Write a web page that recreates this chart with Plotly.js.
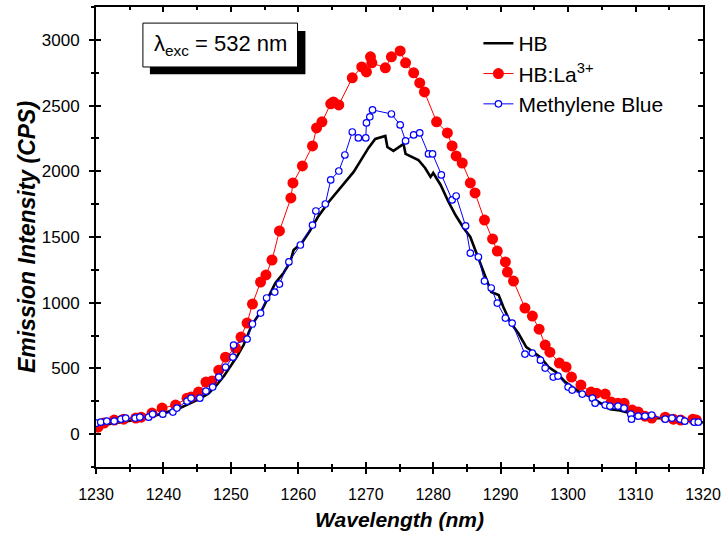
<!DOCTYPE html>
<html>
<head>
<meta charset="utf-8">
<script src="https://cdn.plot.ly/plotly-3.0.1.min.js"></script>
<style>html,body{margin:0;padding:0;background:#fff;}#chart{width:722px;height:542px;}</style>
</head>
<body>
<div id="chart"></div>
<script>
// ---- Data ----
const hbWavelength = [1230.0,1231.9,1233.4,1234.9,1236.4,1237.8,1239.3,1240.8,1242.3,1243.8,1245.2,1246.7,1248.0,1249.0,1250.0,1250.9,1251.9,1253.1,1254.6,1255.6,1256.6,1257.8,1258.8,1259.3,1260.5,1261.7,1262.9,1264.5,1267.2,1268.2,1269.4,1270.4,1271.4,1272.9,1273.2,1274.1,1275.6,1275.9,1277.8,1278.8,1279.6,1280.0,1281.1,1282.2,1283.3,1284.5,1285.5,1286.4,1287.7,1288.6,1289.7,1290.4,1291.4,1292.6,1293.8,1295.1,1295.9,1297.1,1298.2,1299.6,1301.5,1303.4,1304.9,1306.2,1307.4,1309.3,1311.4,1313.3,1315.2,1317.3,1319.3,1320.0];
const hbIntensity = [60,75,90,100,112,125,150,170,195,230,265,310,380,445,520,590,680,830,944,1043,1150,1226,1310,1401,1454,1546,1652,1766,1934,1995,2094,2178,2246,2269,2185,2155,2208,2132,2086,2025,1957,1987,1896,1774,1667,1568,1500,1378,1195,1081,1058,967,853,769,662,617,586,510,472,396,327,282,236,190,183,160,129,122,122,107,91,88];

const laWavelength = [1230.3,1231.2,1232.7,1234.1,1235.9,1236.7,1238.3,1239.8,1241.8,1243.5,1244.1,1245.2,1246.3,1247.2,1248.2,1249.2,1250.7,1251.5,1252.4,1253.2,1254.4,1255.2,1256.1,1257.2,1258.9,1259.2,1260.6,1262.1,1262.7,1263.5,1264.8,1265.2,1266.0,1268.0,1269.4,1270.1,1270.7,1270.9,1272.9,1273.8,1275.1,1275.9,1277.1,1278.0,1278.7,1280.5,1282.1,1282.8,1283.4,1284.3,1285.5,1286.2,1287.6,1288.8,1289.5,1290.7,1291.0,1291.9,1293.6,1294.7,1295.7,1296.6,1297.3,1298.7,1299.7,1300.5,1301.9,1303.4,1304.2,1305.5,1306.4,1307.4,1308.3,1309.5,1310.4,1311.4,1312.4,1314.4,1315.6,1316.7,1318.5,1319.0];
const laIntensity = [53,84,107,114,122,129,160,198,221,274,282,320,396,404,487,586,655,739,845,990,1157,1211,1325,1546,1797,1911,2041,2193,2330,2376,2513,2528,2505,2711,2794,2756,2871,2825,2787,2871,2916,2825,2749,2672,2604,2376,2292,2193,2117,2063,1911,1835,1629,1485,1393,1310,1233,1165,959,898,799,678,624,541,510,434,373,320,312,305,244,236,236,183,168,137,122,129,114,107,114,107];

const mbWavelength = [1230.1,1230.7,1231.6,1232.7,1233.7,1234.4,1235.8,1236.5,1237.8,1238.4,1239.9,1241.4,1242.0,1243.5,1244.1,1245.4,1246.3,1247.3,1248.2,1249.2,1250.3,1250.4,1252.4,1253.2,1254.4,1255.3,1256.5,1257.2,1258.6,1260.3,1262.1,1262.6,1264.0,1264.8,1266.0,1266.9,1268.0,1268.9,1270.0,1270.1,1270.6,1271.0,1273.8,1275.1,1275.9,1277.1,1278.0,1279.3,1279.9,1281.2,1282.8,1283.4,1284.8,1285.5,1286.7,1287.6,1288.6,1289.5,1290.7,1291.7,1293.6,1294.7,1295.9,1296.6,1297.8,1298.5,1300.0,1300.6,1302.1,1303.6,1304.0,1305.5,1306.2,1307.4,1308.3,1309.3,1309.4,1310.4,1311.4,1312.4,1314.4,1315.4,1316.6,1317.3,1318.7,1319.3];
const mbIntensity = [84,91,99,99,114,122,122,129,129,152,152,168,198,251,274,274,327,358,434,510,586,678,723,838,921,1036,1081,1142,1310,1439,1591,1698,1751,1934,2002,2124,2299,2254,2254,2368,2414,2467,2436,2353,2231,2277,2292,2132,2132,1972,1782,1812,1584,1378,1348,1165,1112,997,883,845,609,617,563,503,434,442,358,335,305,274,236,221,213,213,198,152,114,137,137,145,114,122,114,99,91,91];

const seriesNames = ["HB", "HB:La<sup>3+</sup>", "Methylene Blue"];
const xTickValues = [1230,1240,1250,1260,1270,1280,1290,1300,1310,1320];
const yTickValues = [0,500,1000,1500,2000,2500,3000];
const xRange = [1230, 1320];
const yRange = [-250, 3250];
const annotationText = "λ<sub>exc</sub> = 532 nm";
const xTitle = "<b><i>Wavelength (nm)</i></b>";
const yTitle = "<b><i>Emission Intensity (CPS)</i></b>";

const FONT = "Arial, 'Liberation Sans', sans-serif";

const traces = [
  {x: hbWavelength, y: hbIntensity, name: seriesNames[0], type: "scatter", mode: "lines",
   line: {color: "#000000", width: 2.6}},
  {x: laWavelength, y: laIntensity, name: seriesNames[1], type: "scatter", mode: "lines+markers",
   line: {color: "#ff0000", width: 1},
   marker: {symbol: "circle", size: 11, color: "#ff0000", line: {width: 0}}},
  {x: mbWavelength, y: mbIntensity, name: seriesNames[2], type: "scatter", mode: "lines+markers",
   line: {color: "#0000ff", width: 1},
   marker: {symbol: "circle", size: 6.5, color: "#ffffff", line: {color: "#0000ff", width: 1.2}}},
  // helper trace so the overlay axes (inner ticks) are drawn
  {x: [xRange[0]], y: [yRange[0]], xaxis: "x2", yaxis: "y2", mode: "markers",
   marker: {opacity: 0}, showlegend: false, hoverinfo: "skip"}
];

const commonAxis = {
  showgrid: false, zeroline: false, showline: true, linecolor: "#000", linewidth: 2
};

const layout = {
  width: 722, height: 542,
  margin: {l: 96, r: 19, t: 7, b: 75},
  paper_bgcolor: "#ffffff", plot_bgcolor: "#ffffff",
  font: {family: FONT, color: "#000"},
  showlegend: true,
  legend: {x: 0.63, y: 0.965, xanchor: "left", yanchor: "top",
           bgcolor: "rgba(0,0,0,0)", font: {size: 21, family: FONT, color: "#000"},
           tracegroupgap: 0, itemwidth: 30},
  xaxis: Object.assign({}, commonAxis, {
    range: xRange, tickvals: xTickValues, ticks: "outside", ticklen: 5, tickwidth: 2, tickcolor: "#000",
    minor: {dtick: 5, tick0: 1230, ticks: "outside", ticklen: 3, tickwidth: 2, tickcolor: "#000"},
    mirror: true, tickfont: {size: 16, family: FONT}, ticklabelstandoff: 7,
    ticklabeloverflow: "allow",
    title: {text: xTitle, font: {size: 21, family: FONT}, standoff: 10}
  }),
  yaxis: Object.assign({}, commonAxis, {
    range: yRange, tickvals: yTickValues, ticks: "outside", ticklen: 5, tickwidth: 2, tickcolor: "#000",
    minor: {dtick: 250, tick0: 0, ticks: "outside", ticklen: 3, tickwidth: 2, tickcolor: "#000"},
    mirror: true, tickfont: {size: 17, family: FONT}, ticklabelstandoff: 6,
    ticklabeloverflow: "allow",
    title: {text: yTitle, font: {size: 23, family: FONT}, standoff: 0}
  }),
  xaxis2: Object.assign({}, commonAxis, {
    overlaying: "x", anchor: "y2", side: "bottom", range: xRange, tickvals: xTickValues,
    ticks: "inside", ticklen: 5, tickwidth: 2, tickcolor: "#000", showticklabels: false,
    minor: {dtick: 5, tick0: 1230, ticks: "inside", ticklen: 3, tickwidth: 2, tickcolor: "#000"},
    mirror: "allticks"
  }),
  yaxis2: Object.assign({}, commonAxis, {
    overlaying: "y", anchor: "x2", side: "left", range: yRange, tickvals: yTickValues,
    ticks: "inside", ticklen: 5, tickwidth: 2, tickcolor: "#000", showticklabels: false,
    minor: {dtick: 250, tick0: 0, ticks: "inside", ticklen: 3, tickwidth: 2, tickcolor: "#000"},
    mirror: "allticks"
  }),
  shapes: [
    {type: "rect", xref: "paper", yref: "paper", x0: 0.0888, x1: 0.345, y0: 0.854, y1: 0.948,
     fillcolor: "#000", line: {width: 0}, layer: "above"},
    {type: "rect", xref: "paper", yref: "paper", x0: 0.0773, x1: 0.332, y0: 0.8696, y1: 0.965,
     fillcolor: "#fff", line: {color: "#000", width: 1}, layer: "above"}
  ],
  annotations: [
    {xref: "paper", yref: "paper", x: 0.2047, y: 0.9173, xanchor: "center", yanchor: "middle",
     text: annotationText, showarrow: false, font: {size: 22, family: FONT, color: "#000"}}
  ]
};

Plotly.newPlot("chart", traces, layout, {displayModeBar: false, staticPlot: true});
</script>
</body>
</html>
